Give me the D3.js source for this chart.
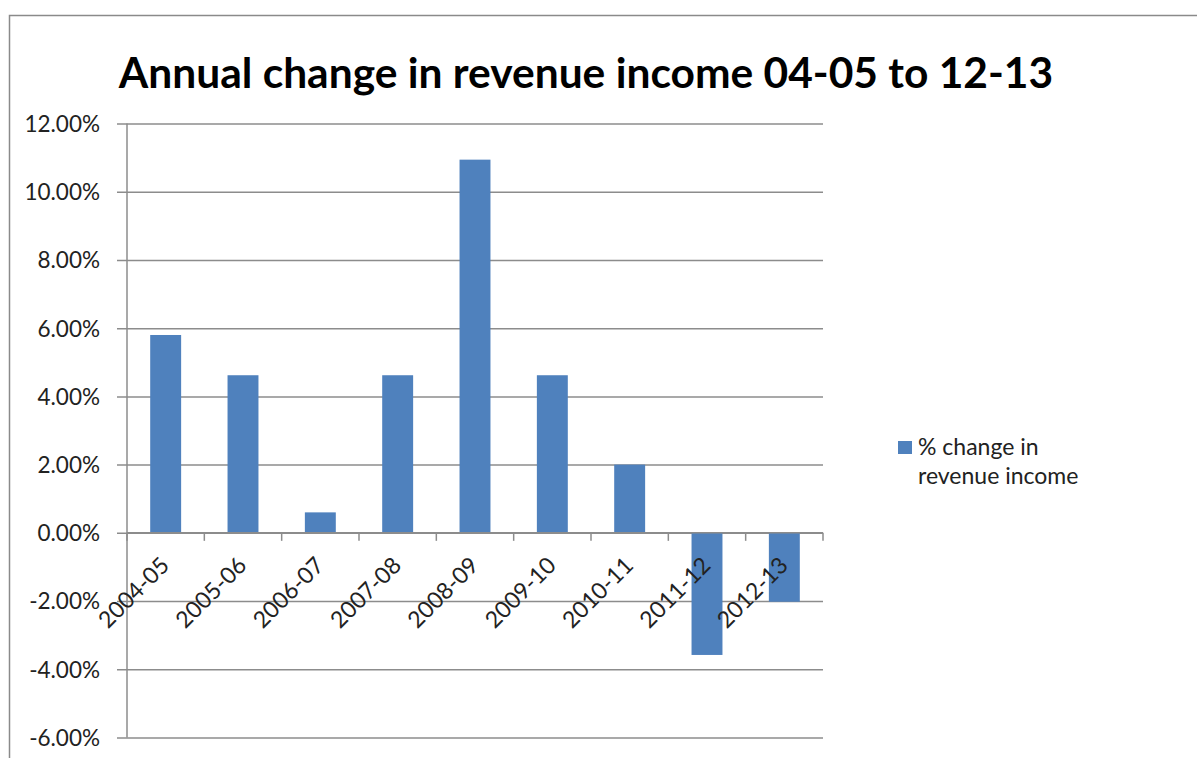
<!DOCTYPE html>
<html>
<head>
<meta charset="utf-8">
<script src="https://cdn.jsdelivr.net/npm/d3@7"></script>
<style>
  body { margin: 0; background: #fff; }
  svg { display: block; }
  text { font-family: Lato, "Open Sans", sans-serif; fill: #222; }
</style>
</head>
<body>
<svg id="chart" width="1197" height="758"></svg>
<script>
var categories = ['2004-05', '2005-06', '2006-07', '2007-08', '2008-09', '2009-10', '2010-11', '2011-12', '2012-13'];
var values = [0.0580, 0.0462, 0.0060, 0.0462, 0.1094, 0.0462, 0.0200, -0.0358, -0.0202];
var yTicks = [0.12, 0.10, 0.08, 0.06, 0.04, 0.02, 0, -0.02, -0.04, -0.06];
var seriesName = ['% change in', 'revenue income'];

var svg = d3.select('#chart');
var barColor = '#4f81bd';
var gridColor = '#8c8c8c';

// plain hyphen for negatives, like the spreadsheet
var locale = d3.formatLocale({ decimal: '.', thousands: ',', grouping: [3], currency: ['$', ''], minus: '-' });

// outer chart frame
svg.append('rect')
  .attr('x', 9.5).attr('y', 15.5)
  .attr('width', 1200).attr('height', 760)
  .attr('fill', 'none')
  .attr('stroke', '#8a8a8a')
  .attr('stroke-width', 1.5);

svg.append('text')
  .attr('x', 586).attr('y', 88)
  .attr('text-anchor', 'middle')
  .attr('font-size', 42.5)
  .attr('font-weight', 'bold')
  .style('fill', '#000')
  .text('Annual change in revenue income 04-05 to 12-13');

var plotL = 127, plotR = 823, plotT = 123.5, plotB = 737.5;

var x = d3.scaleBand().domain(categories).range([plotL, plotR]).paddingInner(0.6).paddingOuter(0.3);
var y = d3.scaleLinear().domain([-0.06, 0.12]).range([plotB, plotT]);

// gridlines + y axis
var yAxis = d3.axisLeft(y)
  .tickValues(yTicks)
  .tickSize(-(plotR - plotL))
  .tickPadding(27)
  .tickFormat(locale.format('.2%'));

var gy = svg.append('g').attr('transform', 'translate(' + plotL + ',0)').call(yAxis);
gy.select('.domain').remove();
gy.selectAll('.tick line').attr('stroke', gridColor).attr('stroke-width', 1.5).attr('x1', -10);
gy.selectAll('.tick text').attr('font-size', 22.5).attr('dy', '0.35em').style('fill', '#222');

svg.append('line')
  .attr('x1', plotL).attr('x2', plotL)
  .attr('y1', plotT).attr('y2', plotB)
  .attr('stroke', gridColor).attr('stroke-width', 1.5);

// bars
svg.selectAll('.bar')
  .data(values)
  .enter()
  .append('rect')
  .attr('class', 'bar')
  .attr('x', function(d, i) { return x(categories[i]); })
  .attr('width', x.bandwidth())
  .attr('y', function(d) { return y(Math.max(0, d)); })
  .attr('height', function(d) { return Math.abs(y(d) - y(0)); })
  .attr('fill', barColor);

// category axis on the zero line
var step = x.step();
var boundaries = d3.range(categories.length + 1).map(function(i) { return plotL + i * step; });
svg.selectAll('.cat-tick')
  .data(boundaries)
  .enter()
  .append('line')
  .attr('x1', function(d) { return d; })
  .attr('x2', function(d) { return d; })
  .attr('y1', y(0)).attr('y2', y(0) + 8)
  .attr('stroke', gridColor).attr('stroke-width', 1.5);

svg.append('line')
  .attr('x1', plotL).attr('x2', plotR)
  .attr('y1', y(0)).attr('y2', y(0))
  .attr('stroke', gridColor).attr('stroke-width', 1.5);

svg.selectAll('.cat-label')
  .data(categories)
  .enter()
  .append('text')
  .attr('class', 'cat-label')
  .attr('text-anchor', 'end')
  .attr('font-size', 23)
  .attr('transform', function(d) {
    var cx = x(d) + x.bandwidth() / 2 + 5;
    return 'translate(' + cx + ',' + (y(0) + 34) + ') rotate(-45)';
  })
  .text(function(d) { return d; });

// legend
var legend = svg.append('g').attr('transform', 'translate(898,441)');
legend.append('rect')
  .attr('width', 14).attr('height', 13)
  .attr('fill', barColor);
legend.selectAll('text')
  .data(seriesName)
  .enter()
  .append('text')
  .attr('x', 20)
  .attr('y', function(d, i) { return 14 + i * 29; })
  .attr('font-size', 23)
  .text(function(d) { return d; });
</script>
</body>
</html>
